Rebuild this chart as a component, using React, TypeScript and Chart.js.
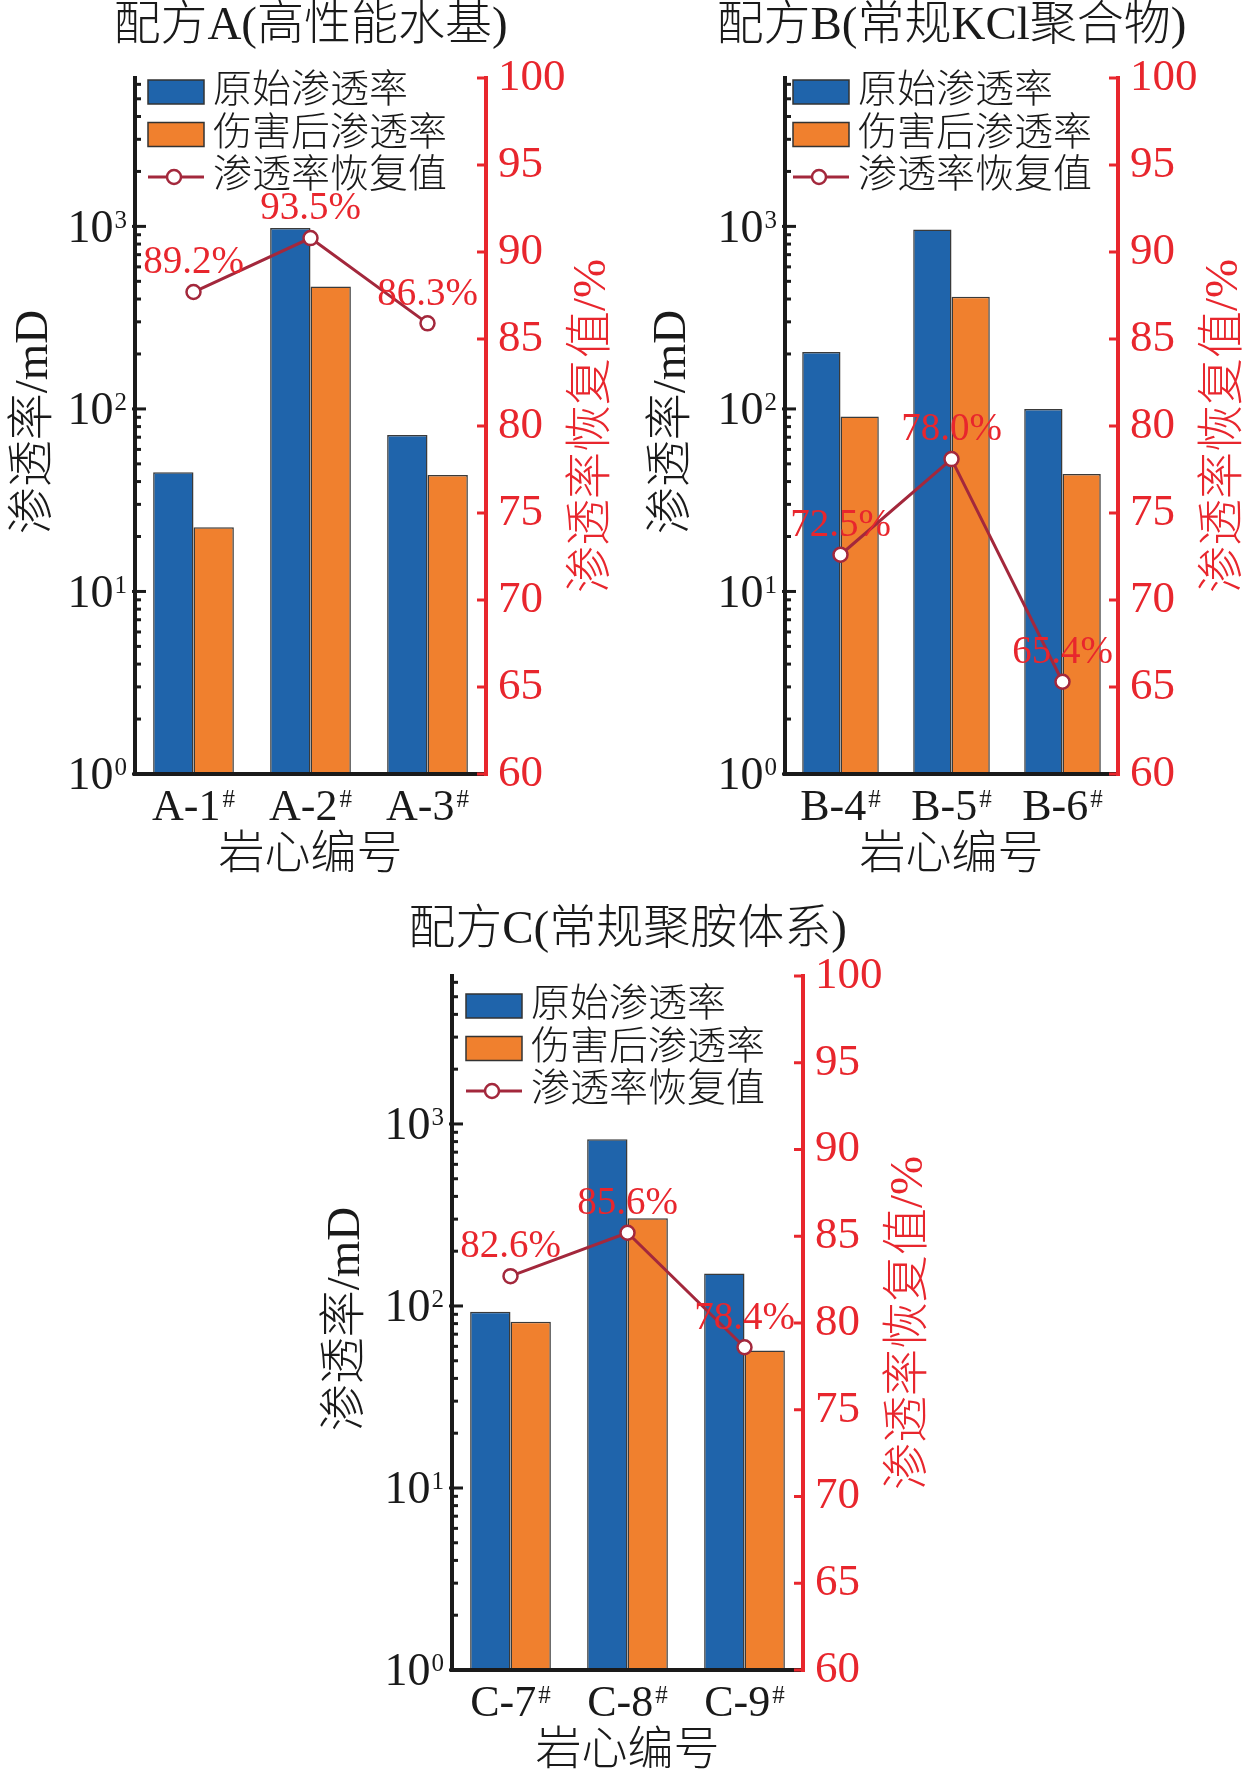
import React, { useEffect, useRef } from 'react';
import { Chart, registerables } from 'chart.js';

Chart.register(...registerables);

// ---------------- data ----------------
const categoriesA = ['A-1', 'A-2', 'A-3'];
const originalA = [45, 980, 72];
const damagedA = [22.5, 468, 43.5];
const recoveryA = [87.7, 90.8, 85.9];
const recoveryLabelsA = ['89.2%', '93.5%', '86.3%'];

const categoriesB = ['B-4', 'B-5', 'B-6'];
const originalB = [205, 960, 100];
const damagedB = [91, 412, 44];
const recoveryB = [72.6, 78.1, 65.3];
const recoveryLabelsB = ['72.5%', '78.0%', '65.4%'];

const categoriesC = ['C-7', 'C-8', 'C-9'];
const originalC = [93, 824, 151];
const damagedC = [82, 303, 57];
const recoveryC = [82.7, 85.2, 78.6];
const recoveryLabelsC = ['82.6%', '85.6%', '78.4%'];

const seriesNames = ['原始渗透率', '伤害后渗透率', '渗透率恢复值'];
const categorySuffix = '#';
const leftDecades = [1, 10, 100, 1000];
const leftDecadeExponents = ['0', '1', '2', '3'];
const leftMax = 6500;
const rightMin = 60;
const rightMax = 100;
const rightStep = 5;
const xTitle = '岩心编号';
const leftTitle = '渗透率/mD';
const rightTitle = '渗透率恢复值/%';

// ---------------- styles ----------------
const BLUE = '#1f64ab';
const ORANGE = '#f0802e';
const LINE = '#a3283c';
const RED = '#e8262d';
const BLACK = '#1a1a1a';
const FAMILY = '"Liberation Serif", "Noto Sans CJK SC", serif';
const f = (size: number) => `300 ${size}px ${FAMILY}`;

type PanelCfg = {
  title: string;
  categories: string[];
  original: number[];
  damaged: number[];
  recovery: number[];
  recLabels: string[];
  box: { left: number; top: number; width: number; height: number };
  area: { left: number; right: number; top: number; bottom: number };
  legendDx: number;
  legendDy: number;
  titleY: number;
  leftTitleDx: number;
  rightTitleDx: number;
};

const panels: PanelCfg[] = [
  {
    title: '配方A(高性能水基)',
    categories: categoriesA,
    original: originalA,
    damaged: damagedA,
    recovery: recoveryA,
    recLabels: recoveryLabelsA,
    box: { left: 0, top: 0, width: 630, height: 890 },
    area: { left: 135, right: 486, top: 78, bottom: 774 },
    legendDx: 13,
    legendDy: 14,
    titleY: 27,
    leftTitleDx: 100,
    rightTitleDx: 107,
  },
  {
    title: '配方B(常规KCl聚合物)',
    categories: categoriesB,
    original: originalB,
    damaged: damagedB,
    recovery: recoveryB,
    recLabels: recoveryLabelsB,
    box: { left: 630, top: 0, width: 630, height: 890 },
    area: { left: 785, right: 1118, top: 78, bottom: 774 },
    legendDx: 8,
    legendDy: 14,
    titleY: 27,
    leftTitleDx: 112,
    rightTitleDx: 107,
  },
  {
    title: '配方C(常规聚胺体系)',
    categories: categoriesC,
    original: originalC,
    damaged: damagedC,
    recovery: recoveryC,
    recLabels: recoveryLabelsC,
    box: { left: 300, top: 890, width: 660, height: 891 },
    area: { left: 452, right: 803, top: 976, bottom: 1670 },
    legendDx: 14,
    legendDy: 30,
    titleY: 41,
    leftTitleDx: 105,
    rightTitleDx: 107,
  },
];

const AXIS_W = 100;

function drawSup(
  ctx: CanvasRenderingContext2D,
  main: string,
  sup: string,
  x: number,
  yc: number,
  size: number,
  supSize: number,
  align: 'left' | 'right' | 'center',
  gap: number
) {
  ctx.font = f(size);
  const w1 = ctx.measureText(main).width;
  ctx.font = f(supSize);
  const w2 = ctx.measureText(sup).width;
  const total = w1 + gap + w2;
  const x0 = align === 'right' ? x - total : align === 'center' ? x - total / 2 : x;
  const cap = 0.66 * size;
  const yb = yc + cap / 2;
  ctx.textAlign = 'left';
  ctx.textBaseline = 'alphabetic';
  ctx.font = f(size);
  ctx.fillText(main, x0, yb);
  ctx.font = f(supSize);
  ctx.fillText(sup, x0 + w1 + gap, yb - cap + 0.66 * supSize);
}

function Panel({ cfg }: { cfg: PanelCfg }) {
  const ref = useRef<HTMLCanvasElement>(null);
  useEffect(() => {
    if (!ref.current) return;
    const { box, area } = cfg;
    const la = {
      left: area.left - box.left,
      right: area.right - box.left,
      top: area.top - box.top,
      bottom: area.bottom - box.top,
    };
    const deco = {
      id: 'deco',
      afterDraw(chart: any) {
        const ctx: CanvasRenderingContext2D = chart.ctx;
        const ca = chart.chartArea;
        const xs = chart.scales.x;
        const ys = chart.scales.y;
        const y1 = chart.scales.y1;
        ctx.save();
        // axis lines
        ctx.lineCap = 'square';
        ctx.strokeStyle = BLACK;
        ctx.lineWidth = 4;
        ctx.beginPath();
        ctx.moveTo(ca.left, ca.top);
        ctx.lineTo(ca.left, ca.bottom);
        ctx.lineTo(ca.right, ca.bottom);
        ctx.stroke();
        // left ticks
        ctx.lineWidth = 3;
        ctx.lineCap = 'butt';
        leftDecades.forEach((d) => {
          const py = ys.getPixelForValue(d);
          ctx.beginPath();
          ctx.moveTo(ca.left - 3, py);
          ctx.lineTo(ca.left + 11, py);
          ctx.stroke();
          for (let m = 2; m <= 9; m++) {
            const v = d * m;
            if (v > leftMax) break;
            const pm = ys.getPixelForValue(v);
            ctx.beginPath();
            ctx.moveTo(ca.left, pm);
            ctx.lineTo(ca.left + 6, pm);
            ctx.stroke();
          }
        });
        // right axis
        ctx.strokeStyle = RED;
        ctx.lineWidth = 4;
        ctx.lineCap = 'square';
        ctx.beginPath();
        ctx.moveTo(ca.right, ca.top);
        ctx.lineTo(ca.right, ca.bottom);
        ctx.stroke();
        ctx.lineCap = 'butt';
        ctx.lineWidth = 3;
        for (let v = rightMin; v <= rightMax; v += rightStep) {
          const py = y1.getPixelForValue(v);
          ctx.beginPath();
          ctx.moveTo(ca.right - 9, py);
          ctx.lineTo(ca.right, py);
          ctx.stroke();
        }
        // left tick labels
        ctx.fillStyle = BLACK;
        leftDecades.forEach((d, i) => {
          const py = ys.getPixelForValue(d);
          drawSup(ctx, '10', leftDecadeExponents[i], ca.left - 8, py, 46, 25, 'right', 1);
        });
        // x tick labels
        cfg.categories.forEach((c, i) => {
          const px = xs.getPixelForValue(i);
          drawSup(ctx, c, categorySuffix, px, ca.bottom + 31, 44, 25, 'center', 2);
        });
        // titles
        ctx.textAlign = 'center';
        ctx.textBaseline = 'middle';
        ctx.font = f(46);
        ctx.fillText(xTitle, (ca.left + ca.right) / 2, ca.bottom + 82);
        ctx.font = f(47);
        ctx.fillText(cfg.title, (ca.left + ca.right) / 2, cfg.titleY);
        ctx.font = f(47);
        ctx.save();
        ctx.translate(ca.left - cfg.leftTitleDx, (ca.top + ca.bottom) / 2 - 4);
        ctx.rotate(-Math.PI / 2);
        ctx.fillText(leftTitle, 0, 0);
        ctx.restore();
        ctx.save();
        ctx.fillStyle = RED;
        ctx.translate(ca.right + cfg.rightTitleDx, (ca.top + ca.bottom) / 2);
        ctx.rotate(-Math.PI / 2);
        ctx.fillText(rightTitle, 0, 0);
        ctx.restore();
        // data labels
        const meta = chart.getDatasetMeta(2);
        ctx.fillStyle = RED;
        ctx.font = f(39);
        ctx.textAlign = 'center';
        ctx.textBaseline = 'middle';
        meta.data.forEach((pt: any, i: number) => {
          ctx.fillText(cfg.recLabels[i], pt.x, pt.y - 29);
        });
        // legend
        const lx = ca.left + cfg.legendDx;
        const rowH = 42.5;
        const fills = [BLUE, ORANGE];
        seriesNames.forEach((name, i) => {
          const cy = ca.top + cfg.legendDy + i * rowH;
          if (i < 2) {
            ctx.fillStyle = fills[i];
            ctx.fillRect(lx, cy - 12, 56, 24);
            ctx.strokeStyle = '#333';
            ctx.lineWidth = 1.5;
            ctx.strokeRect(lx, cy - 12, 56, 24);
          } else {
            ctx.strokeStyle = LINE;
            ctx.lineWidth = 3;
            ctx.beginPath();
            ctx.moveTo(lx, cy);
            ctx.lineTo(lx + 56, cy);
            ctx.stroke();
            ctx.beginPath();
            ctx.arc(lx + 26, cy, 7, 0, Math.PI * 2);
            ctx.fillStyle = '#fff';
            ctx.fill();
            ctx.lineWidth = 2.5;
            ctx.stroke();
          }
          ctx.fillStyle = BLACK;
          ctx.font = f(39);
          ctx.textAlign = 'left';
          ctx.textBaseline = 'middle';
          ctx.fillText(name, lx + 65, cy);
        });
        ctx.restore();
      },
    };

    const chart = new Chart(ref.current, {
      type: 'bar',
      data: {
        labels: cfg.categories,
        datasets: [
          {
            type: 'bar',
            label: seriesNames[0],
            data: cfg.original,
            backgroundColor: BLUE,
            borderColor: '#3a3a3a',
            borderWidth: 1.5,
            yAxisID: 'y',
            order: 1,
            categoryPercentage: 0.69,
            barPercentage: 1.0,
          },
          {
            type: 'bar',
            label: seriesNames[1],
            data: cfg.damaged,
            backgroundColor: ORANGE,
            borderColor: '#3a3a3a',
            borderWidth: 1.5,
            yAxisID: 'y',
            order: 2,
            categoryPercentage: 0.69,
            barPercentage: 1.0,
          },
          {
            type: 'line',
            label: seriesNames[2],
            data: cfg.recovery,
            borderColor: LINE,
            borderWidth: 3,
            pointRadius: 7,
            pointBackgroundColor: '#ffffff',
            pointBorderColor: LINE,
            pointBorderWidth: 2.5,
            yAxisID: 'y1',
            order: 0,
          } as any,
        ],
      },
      options: {
        responsive: false,
        maintainAspectRatio: false,
        animation: false,
        devicePixelRatio: 1,
        layout: {
          padding: {
            left: la.left - AXIS_W,
            right: box.width - la.right - AXIS_W,
            top: la.top,
            bottom: box.height - la.bottom,
          },
        },
        plugins: {
          legend: { display: false },
          title: { display: false },
          tooltip: { enabled: false },
        },
        scales: {
          x: {
            type: 'category',
            grid: { display: false },
            border: { display: false },
            ticks: { display: false },
            afterFit: (s: any) => {
              s.height = 0;
            },
          },
          y: {
            type: 'logarithmic',
            position: 'left',
            min: 1,
            max: leftMax,
            grid: { display: false },
            border: { display: false },
            ticks: { display: false },
            afterFit: (s: any) => {
              s.width = AXIS_W;
            },
          },
          y1: {
            type: 'linear',
            position: 'right',
            min: rightMin,
            max: rightMax,
            grid: { display: false, drawTicks: false },
            border: { display: false },
            ticks: {
              stepSize: rightStep,
              autoSkip: false,
              color: RED,
              padding: 12,
              font: { family: FAMILY, size: 45, weight: 300 as any },
            },
            afterFit: (s: any) => {
              s.width = AXIS_W;
            },
          },
        } as any,
      },
      plugins: [deco],
    } as any);
    return () => chart.destroy();
  }, [cfg]);

  return (
    <div
      style={{
        position: 'absolute',
        left: cfg.box.left,
        top: cfg.box.top,
        width: cfg.box.width,
        height: cfg.box.height,
      }}
    >
      <canvas
        ref={ref}
        width={cfg.box.width}
        height={cfg.box.height}
        style={{ width: cfg.box.width, height: cfg.box.height, display: 'block' }}
      />
    </div>
  );
}

export default function App() {
  return (
    <div
      style={{
        position: 'absolute',
        left: 0,
        top: 0,
        width: 1260,
        height: 1781,
        background: '#ffffff',
        overflow: 'hidden',
      }}
    >
      {panels.map((p) => (
        <Panel key={p.title} cfg={p} />
      ))}
    </div>
  );
}
